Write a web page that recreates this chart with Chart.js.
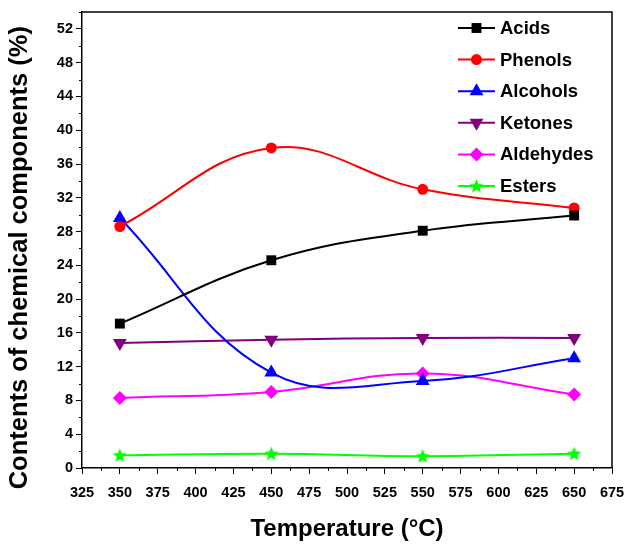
<!DOCTYPE html>
<html>
<head>
<meta charset="utf-8">
<script src="https://cdn.jsdelivr.net/npm/chart.js@4.4.1/dist/chart.umd.min.js"></script>
<style>
html, body { margin: 0; padding: 0; background: #fff; }
#wrap { width: 626px; height: 544px; }
</style>
</head>
<body>
<div id="wrap"><canvas id="chart-line"></canvas></div>
<script>
var temps = [350, 450, 550, 650];
var acids = [17.1, 24.6, 28.1, 29.9];
var phenols = [28.6, 37.9, 33.0, 30.8];
var alcohols = [29.6, 11.3, 10.3, 13.0];
var ketones = [14.8, 15.2, 15.4, 15.4];
var aldehydes = [8.3, 9.0, 11.2, 8.7];
var esters = [1.5, 1.7, 1.4, 1.7];

var xTicks = [325, 350, 375, 400, 425, 450, 475, 500, 525, 550, 575, 600, 625, 650, 675];
var yTicks = [0, 4, 8, 12, 16, 20, 24, 28, 32, 36, 40, 44, 48, 52];

var FONT = "'Liberation Sans', Arial, sans-serif";

function makeStar(size, color) {
    var c = document.createElement("canvas");
    c.width = size; c.height = size;
    var g = c.getContext("2d");
    var cx = size / 2, cy = size / 2 + 0.5, R = size / 2, r = R * 0.45;
    g.fillStyle = color;
    g.beginPath();
    for (var i = 0; i < 10; i++) {
        var a = -Math.PI / 2 + i * Math.PI / 5;
        var rr = i % 2 ? r : R;
        g.lineTo(cx + rr * Math.cos(a), cy + rr * Math.sin(a));
    }
    g.closePath();
    g.fill();
    return c;
}

function series(label, values, color, style, radius, rotation) {
    return {
        label: label,
        data: temps.map(function (t, i) { return { x: t, y: values[i] }; }),
        borderColor: color,
        backgroundColor: color,
        pointBackgroundColor: color,
        pointBorderColor: color,
        pointBorderWidth: 0,
        borderWidth: 2,
        pointStyle: style,
        pointRadius: radius,
        pointRotation: rotation || 0,
        tension: 0.4,
        fill: false
    };
}

var datasets = [
    series("Acids", acids, "#000000", "rect", 7),
    series("Phenols", phenols, "#ff0000", "circle", 5.5),
    series("Alcohols", alcohols, "#0000ff", "triangle", 8),
    series("Ketones", ketones, "#800080", "triangle", 8, 180),
    series("Aldehydes", aldehydes, "#ff00ff", "rectRot", 7),
    series("Esters", esters, "#00ff00", makeStar(15, "#00ff00"), 7)
];

// frame, minor ticks and the in-plot legend
var extras = {
    id: "extras",
    afterDraw: function (chart) {
        var ctx = chart.ctx, a = chart.chartArea;
        var xs = chart.scales.x, ys = chart.scales.y;
        ctx.save();
        ctx.strokeStyle = "#000";
        ctx.lineWidth = 1.5;
        ctx.beginPath();
        ctx.moveTo(a.left, a.top);
        ctx.lineTo(a.right, a.top);
        ctx.lineTo(a.right, a.bottom);
        ctx.stroke();

        ctx.lineWidth = 1;
        ctx.beginPath();
        for (var i = 0; i < xTicks.length - 1; i++) {
            var px = Math.round(xs.getPixelForValue((xTicks[i] + xTicks[i + 1]) / 2)) + 0.5;
            ctx.moveTo(px, a.bottom);
            ctx.lineTo(px, a.bottom + 3);
        }
        for (var j = 0; j < yTicks.length; j++) {
            var py = Math.round(ys.getPixelForValue(yTicks[j] + 2)) + 0.5;
            ctx.moveTo(a.left, py);
            ctx.lineTo(a.left - 3, py);
        }
        ctx.stroke();

        // legend
        var lx = 458, ly = 28, step = 31.6;
        ctx.font = "bold 18.5px " + FONT;
        ctx.textBaseline = "middle";
        ctx.textAlign = "left";
        chart.data.datasets.forEach(function (ds, k) {
            var y = ly + k * step;
            ctx.strokeStyle = ds.borderColor;
            ctx.fillStyle = ds.borderColor;
            ctx.lineWidth = 2;
            ctx.beginPath();
            ctx.moveTo(lx, y);
            ctx.lineTo(lx + 37, y);
            ctx.stroke();
            Chart.helpers.drawPoint(ctx, {
                pointStyle: ds.pointStyle,
                radius: ds.pointRadius,
                rotation: ds.pointRotation,
                borderWidth: 0
            }, lx + 18.5, y);
            ctx.fillStyle = "#000";
            ctx.fillText(ds.label, lx + 42, y + 1);
        });
        ctx.restore();
    }
};

new Chart(document.getElementById("chart-line").getContext("2d"), {
    type: "line",
    data: { datasets: datasets },
    plugins: [extras],
    options: {
        responsive: true,
        maintainAspectRatio: false,
        animation: false,
        layout: { padding: { top: 12, right: 14, left: 0, bottom: 0 } },
        plugins: {
            legend: { display: false },
            tooltip: { enabled: false }
        },
        scales: {
            x: {
                type: "linear",
                min: 325,
                max: 675,
                afterBuildTicks: function (s) { s.ticks = xTicks.map(function (v) { return { value: v }; }); },
                afterFit: function (s) { s.height = 76; s.paddingLeft = 0; s.paddingRight = 0; },
                grid: { drawOnChartArea: false, drawTicks: true, tickLength: 6, color: "#000" },
                border: { color: "#000", width: 1.5 },
                ticks: {
                    color: "#000",
                    padding: 10,
                    maxRotation: 0,
                    font: { family: FONT, size: 14.5, weight: "bold" }
                },
                title: {
                    display: true,
                    text: "Temperature (°C)",
                    color: "#000",
                    padding: { top: 0, bottom: 0 },
                    font: { family: FONT, size: 24, weight: "bold" }
                }
            },
            y: {
                min: 0,
                max: 54,
                afterBuildTicks: function (s) { s.ticks = yTicks.map(function (v) { return { value: v }; }); },
                afterFit: function (s) { s.width = 82; s.paddingTop = 0; s.paddingBottom = 0; },
                grid: { drawOnChartArea: false, drawTicks: true, tickLength: 6, color: "#000" },
                border: { color: "#000", width: 1.5 },
                ticks: {
                    color: "#000",
                    padding: 3,
                    font: { family: FONT, size: 14.5, weight: "bold" }
                },
                title: {
                    display: true,
                    text: "Contents of chemical components (%)     ",
                    color: "#000",
                    padding: { top: 5, bottom: 0 },
                    font: { family: FONT, size: 25.5, weight: "bold" }
                }
            }
        }
    }
});
</script>
</body>
</html>
